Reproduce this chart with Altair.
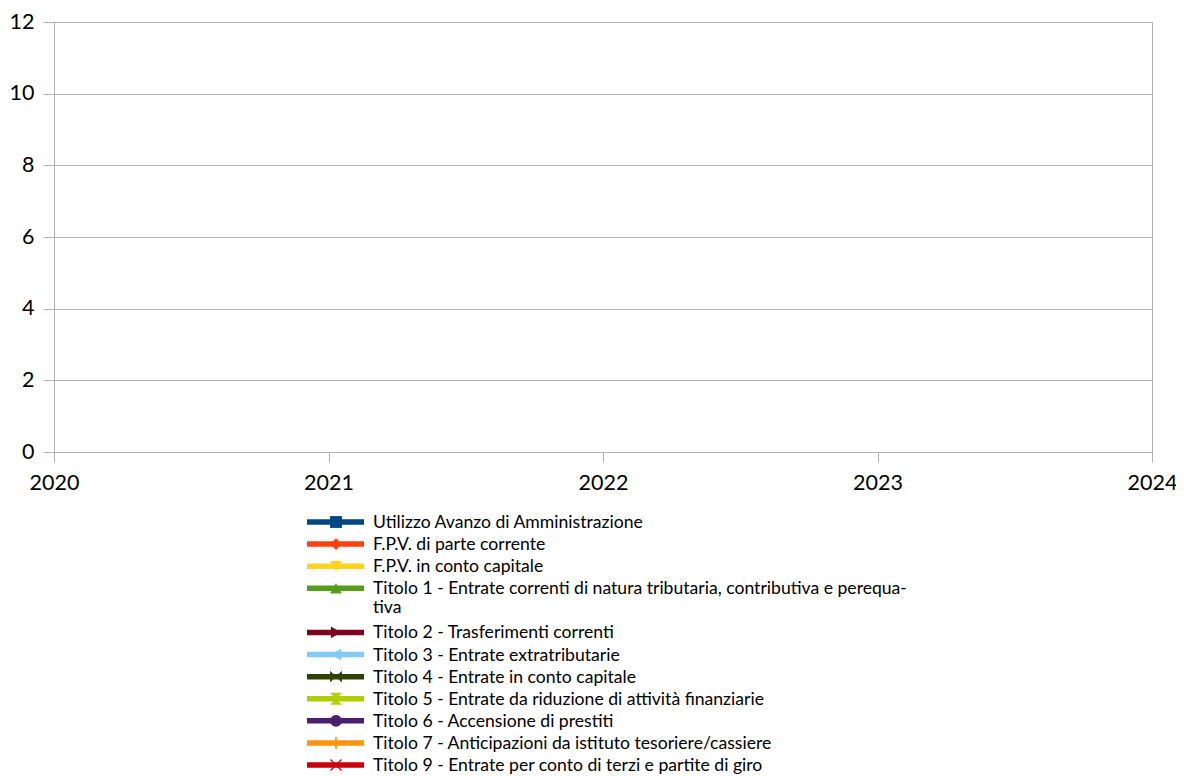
import altair as alt
import pandas as pd

# ---- data ----
YEARS = [2020, 2021, 2022, 2023, 2024]
SERIES = [
    "Utilizzo Avanzo di Amministrazione",
    "F.P.V. di parte corrente",
    "F.P.V. in conto capitale",
    "Titolo 1 - Entrate correnti di natura tributaria, contributiva e perequativa",
    "Titolo 2 - Trasferimenti correnti",
    "Titolo 3 - Entrate extratributarie",
    "Titolo 4 - Entrate in conto capitale",
    "Titolo 5 - Entrate da riduzione di attività finanziarie",
    "Titolo 6 - Accensione di prestiti",
    "Titolo 7 - Anticipazioni da istituto tesoriere/cassiere",
    "Titolo 9 - Entrate per conto di terzi e partite di giro",
]
LABELS = [
    "Utilizzo Avanzo di Amministrazione",
    "F.P.V. di parte corrente",
    "F.P.V. in conto capitale",
    "Titolo 1 - Entrate correnti di natura tributaria, contributiva e perequa-\ntiva",
    "Titolo 2 - Trasferimenti correnti",
    "Titolo 3 - Entrate extratributarie",
    "Titolo 4 - Entrate in conto capitale",
    "Titolo 5 - Entrate da riduzione di attività finanziarie",
    "Titolo 6 - Accensione di prestiti",
    "Titolo 7 - Anticipazioni da istituto tesoriere/cassiere",
    "Titolo 9 - Entrate per conto di terzi e partite di giro",
]
# no values shown in the chart (all empty)
VALUES = {s: [None, None, None, None, None] for s in SERIES}
LEGEND_SLOTS = [0, 1, 2, 3, 5, 6, 7, 8, 9, 10, 11]

COLORS = ["#004586", "#ff420e", "#ffd320", "#579d1c", "#7e0021", "#83caff",
          "#314004", "#aecf00", "#4b1f6f", "#ff950e", "#c5000b"]
SHAPES = [
    "square",
    "diamond",
    "triangle-down",
    "triangle-up",
    "triangle-right",
    "triangle-left",
    "M-1,-1L0,0L-1,1Z M1,-1L0,0L1,1Z",
    "M-1,-1L1,-1L0,0Z M-1,1L1,1L0,0Z",
    "circle",
    "M-0.15,-1L0.15,-1L0.15,1L-0.15,1Z",
    "M-1,-0.85L-0.85,-1L0,-0.15L0.85,-1L1,-0.85L0.15,0L1,0.85L0.85,1L0,0.15L-0.85,1L-1,0.85L-0.15,0Z",
]

rows = []
for s in SERIES:
    for yr, v in zip(YEARS, VALUES[s]):
        rows.append({"anno": yr, "serie": s, "valore": v})
df = pd.DataFrame(rows)
leg = pd.DataFrame({"serie": SERIES, "label": LABELS, "slot": LEGEND_SLOTS})

FONT = "Lato"
GRID = "#b3b3b3"

color = alt.Color("serie:N", scale=alt.Scale(domain=SERIES, range=COLORS), legend=None)
shape = alt.Shape("serie:N", scale=alt.Scale(domain=SERIES, range=SHAPES), legend=None)

x = alt.X("anno:Q", scale=alt.Scale(domain=[2020, 2024], nice=False, zero=False),
          axis=alt.Axis(values=YEARS, format="d", title=None, grid=False,
                        labelFontSize=21.5, labelPadding=10, tickSize=10,
                        labelFlush=False))
y = alt.Y("valore:Q", scale=alt.Scale(domain=[0, 12], nice=False),
          axis=alt.Axis(values=[0, 2, 4, 6, 8, 10, 12], title=None, grid=True,
                        labelFontSize=21.5, labelPadding=9, tickSize=11,
                        labelFlush=False))
y_noaxis = alt.Y("valore:Q", scale=alt.Scale(domain=[0, 12], nice=False), axis=None)

lines = alt.Chart(df).mark_line(strokeWidth=5).encode(x=x, y=y, color=color)
points = alt.Chart(df).mark_point(filled=True, opacity=1, size=140).encode(
    x=x, y=y_noaxis, color=color, shape=shape)

ly = alt.Y("slot:Q", scale=alt.Scale(domain=[0, 11], range=[500, 743], nice=False, zero=False),
           axis=None)
leg_rule = alt.Chart(leg).mark_rule(strokeWidth=5.5).encode(
    x=alt.value(253), x2=alt.value(310), y=ly, color=color)
leg_pt = alt.Chart(leg).mark_point(filled=True, opacity=1, size=140).encode(
    x=alt.value(282), y=ly, color=color, shape=shape)
leg_txt = alt.Chart(leg).mark_text(align="left", baseline="alphabetic", dy=6,
                                   fontSize=17.6, font=FONT, color="#000000",
                                   lineBreak="\n", lineHeight=19).encode(
    x=alt.value(319), y=ly, text="label:N")

chart = alt.layer(lines, points, leg_rule, leg_pt, leg_txt).resolve_scale(
    y="independent"
).properties(
    width=1098, height=430,
    autosize=alt.AutoSizeParams(type="none"),
    padding={"left": 46, "top": 14, "right": 24, "bottom": 322},
).configure_axis(
    labelFont=FONT, labelColor="#000000", domainColor=GRID, tickColor=GRID,
    gridColor=GRID, domainWidth=1, gridWidth=1
).configure_view(stroke=GRID, strokeWidth=1)

chart.save("out.html", embed_options={"renderer": "svg", "actions": False})
